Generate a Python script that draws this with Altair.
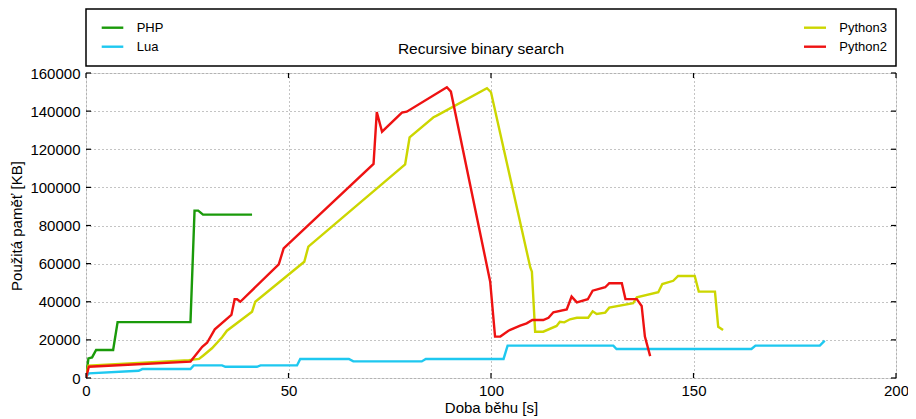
import altair as alt
import pandas as pd

# ---------------- data ----------------
series_names = ["PHP", "Lua", "Python3", "Python2"]
series_colors = ["#1a9a0a", "#1ec8f0", "#ccd600", "#ee1212"]

php_t = [0, 0.6, 1.5, 2.5, 6.7, 7.8, 25.8, 26.8, 27.7, 28.9, 41.0]
php_kb = [0, 10300, 10800, 14700, 14700, 29300, 29300, 87800, 87800, 85700, 85700]

lua_t = [0, 0.7, 13.0, 13.9, 25.8, 26.6, 33.6, 34.4, 42.2, 43.1, 52.1, 52.9, 64.9,
         66.0, 82.9, 83.9, 103.1, 104.1, 130.2, 131.0, 164.3, 165.3, 181.2, 182.4]
lua_kb = [700, 2400, 3800, 4700, 4700, 6600, 6600, 5900, 5900, 6600, 6600, 10000, 10000,
          8700, 8700, 10000, 10000, 17000, 17000, 15200, 15200, 17000, 17000, 19600]

py3_t = [0, 0.6, 25.4, 27.9, 28.9, 31.1, 33.6, 34.8, 41.0, 41.8, 53.9, 54.9, 78.8, 79.9,
         85.8, 86.5, 99.0, 100.0, 109.7, 110.1, 110.9, 112.9, 116.2, 117.0, 118.1, 119.5,
         121.2, 124.0, 125.1, 126.1, 128.2, 129.2, 135.1, 136.0, 141.3, 142.3, 145.0, 146.2,
         150.3, 151.3, 155.3, 156.1, 157.3]
py3_kb = [700, 6500, 9400, 10000, 11700, 15600, 21400, 24800, 34800, 40000, 61000, 68900,
          112100, 126200, 136800, 137500, 152000, 149900, 58000, 55800, 24300, 24300, 27300,
          29500, 29200, 30800, 31600, 31600, 35000, 33600, 34300, 36900, 39200, 42300, 45000,
          49300, 51000, 53500, 53500, 45300, 45300, 26900, 25200]

py2_t = [0, 0.7, 25.8, 28.7, 29.9, 31.8, 35.9, 36.7, 37.3, 38.1, 47.6, 48.8, 71.0, 71.8,
         73.1, 78.0, 79.2, 89.1, 90.1, 99.8, 101.0, 102.3, 104.3, 107.2, 108.8, 110.2, 112.9,
         114.2, 115.4, 118.7, 119.9, 121.2, 123.9, 125.1, 128.2, 129.2, 132.3, 133.2, 136.0,
         137.2, 138.0, 139.3]
py2_kb = [0, 5900, 8600, 16400, 18500, 25500, 33100, 41300, 41300, 40000, 59600, 68000,
          112300, 139500, 129200, 139200, 139700, 152500, 150200, 50500, 21700, 21800, 24800,
          27500, 28700, 30400, 30400, 31600, 34500, 36000, 42700, 39700, 41300, 45800, 47600,
          49700, 49700, 41400, 41400, 37800, 21700, 11500]

x_ticks = [0, 50, 100, 150, 200]
y_ticks = [0, 20000, 40000, 60000, 80000, 100000, 120000, 140000, 160000]

chart_title = "Recursive binary search"
x_title = "Doba běhu [s]"
y_title = "Použitá paměť [KB]"

# ---------------- build ----------------
FONT = "Liberation Sans"
W, H = 810, 305

all_series = [(php_t, php_kb), (lua_t, lua_kb), (py3_t, py3_kb), (py2_t, py2_kb)]

common_axis = dict(format="d", grid=True, ticks=False, domain=False,
                   labelFontSize=15, titleFontSize=15, titleFontWeight="normal",
                   labelFont=FONT, titleFont=FONT, labelColor="black",
                   titleColor="black", gridColor="#888888", gridDash=[1, 3],
                   gridWidth=1, labelFlush=False, labelOverlap=False)

x_enc = alt.X("t:Q", scale=alt.Scale(domain=[0, 200], nice=False),
              axis=alt.Axis(values=x_ticks, title=x_title, labelPadding=5,
                            titlePadding=2, **common_axis))
y_enc = alt.Y("kb:Q", scale=alt.Scale(domain=[0, 160000], nice=False),
              axis=alt.Axis(values=y_ticks, title=y_title, labelPadding=6,
                            titlePadding=5, **common_axis))

layers = []
for (t, kb), name, col in zip(all_series, series_names, series_colors):
    df = pd.DataFrame({"t": t, "kb": kb, "name": name})
    layers.append(alt.Chart(df).mark_line(color=col, strokeWidth=2.4, clip=True)
                  .encode(x=x_enc, y=y_enc))

# inward tick marks on all four sides
ydf = pd.DataFrame({"kb": y_ticks})
xdf = pd.DataFrame({"t": x_ticks})
tick_style = dict(color="black", strokeWidth=1.2)
layers.append(alt.Chart(ydf).mark_rule(**tick_style).encode(y=y_enc, x=alt.value(0), x2=alt.value(5)))
layers.append(alt.Chart(ydf).mark_rule(**tick_style).encode(y=y_enc, x=alt.value(W - 5), x2=alt.value(W)))
layers.append(alt.Chart(xdf).mark_rule(**tick_style).encode(x=x_enc, y=alt.value(H - 5), y2=alt.value(H)))
layers.append(alt.Chart(xdf).mark_rule(**tick_style).encode(x=x_enc, y=alt.value(0), y2=alt.value(5)))

# header box with legend and title (above the plot area)
one = pd.DataFrame({"a": [0]})
layers.append(alt.Chart(one).mark_rect(fill="white", stroke="black", strokeWidth=1.5)
              .encode(x=alt.value(0), x2=alt.value(W), y=alt.value(-64), y2=alt.value(-7)))
layers.append(alt.Chart(one).mark_text(font=FONT, fontSize=15.5, color="black",
                                       align="center", baseline="alphabetic")
              .encode(x=alt.value(395), y=alt.value(-19.5), text=alt.value(chart_title)))

legend_pos = {"PHP": (15.7, 37.3, 50.7, -45.3),
              "Lua": (15.7, 37.3, 50.7, -26.3),
              "Python3": (718, 740, 753.3, -45.3),
              "Python2": (718, 740, 753.3, -26.3)}
for name, col in zip(series_names, series_colors):
    x1, x2, lx, ly = legend_pos[name]
    layers.append(alt.Chart(one).mark_rule(color=col, strokeWidth=2.4)
                  .encode(x=alt.value(x1), x2=alt.value(x2), y=alt.value(ly)))
    layers.append(alt.Chart(one).mark_text(font=FONT, fontSize=13, color="black",
                                           align="left", baseline="middle")
                  .encode(x=alt.value(lx), y=alt.value(ly), text=alt.value(name)))

chart = (alt.layer(*layers)
         .properties(width=W, height=H,
                     padding={"left": 78, "top": 65, "right": 12, "bottom": 38},
                     autosize=alt.AutoSizeParams(type="none"))
         .configure_view(stroke="black", strokeWidth=1.5)
         .configure(background="white"))

chart.save("out.html", embed_options={"renderer": "svg", "actions": False})
